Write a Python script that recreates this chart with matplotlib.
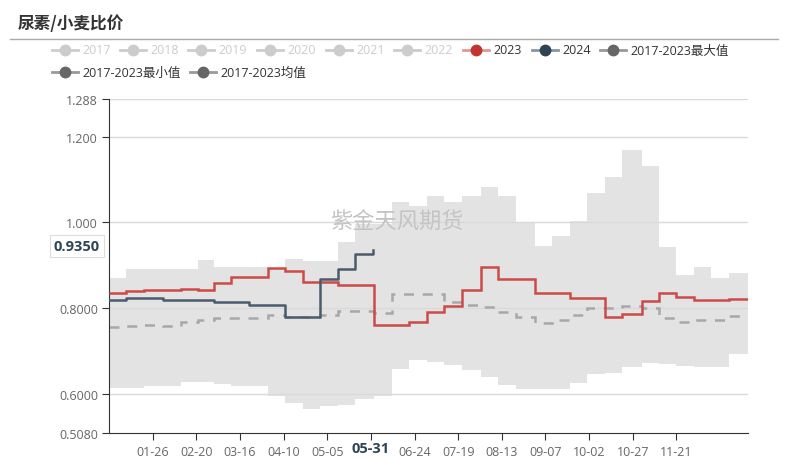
import matplotlib
matplotlib.use("Agg")
import matplotlib.pyplot as plt
import numpy as np
from matplotlib.lines import Line2D

plt.rcParams["font.family"] = ["Open Sans", "Noto Sans CJK SC", "DejaVu Sans"]

# dekad starts (1st, 11th, 21st of each month), leap-year calendar
dekad_dates = np.array(["2024-%02d-%02d" % (m, d) for m in range(1, 13) for d in (1, 11, 21)],
                       dtype="datetime64[D]")
year_start = np.datetime64("2024-01-01")
year_days = 366

upper = [0.869, 0.891, 0.891, 0.891, 0.891, 0.912, 0.895, 0.895, 0.895, 0.893, 0.914, 0.910,
         0.910, 0.953, 0.996, 0.996, 1.048, 1.037, 1.061, 1.048, 1.062, 1.082, 1.061, 1.000,
         0.945, 0.969, 1.002, 1.068, 1.106, 1.169, 1.132, 0.943, 0.877, 0.895, 0.870, 0.882]
lower = [0.613, 0.614, 0.617, 0.617, 0.626, 0.626, 0.622, 0.617, 0.617, 0.594, 0.578, 0.565,
         0.572, 0.573, 0.587, 0.595, 0.657, 0.679, 0.674, 0.667, 0.656, 0.639, 0.619, 0.610,
         0.610, 0.610, 0.624, 0.646, 0.649, 0.661, 0.671, 0.669, 0.665, 0.663, 0.661, 0.692]
mean = [0.756, 0.757, 0.760, 0.759, 0.768, 0.771, 0.776, 0.776, 0.776, 0.783, 0.779, 0.779,
        0.783, 0.793, 0.793, 0.788, 0.832, 0.832, 0.832, 0.813, 0.808, 0.802, 0.790, 0.780,
        0.765, 0.771, 0.783, 0.799, 0.799, 0.805, 0.799, 0.776, 0.768, 0.771, 0.771, 0.782]
y2023 = [0.835, 0.839, 0.841, 0.841, 0.844, 0.842, 0.858, 0.872, 0.872, 0.893, 0.886, 0.860,
         0.861, 0.854, 0.854, 0.761, 0.761, 0.768, 0.791, 0.805, 0.842, 0.896, 0.868, 0.868,
         0.836, 0.836, 0.823, 0.823, 0.780, 0.787, 0.817, 0.836, 0.826, 0.818, 0.818, 0.820]
y2024 = [0.819, 0.823, 0.823, 0.819, 0.819, 0.819, 0.815, 0.815, 0.808, 0.808, 0.780, 0.780,
         0.868, 0.890, 0.926]
last_date = "2024-05-31"
last_value = 0.935

y_ticks = [0.508, 0.6, 0.8, 1.0, 1.2, 1.288]
y_ticklabels = ["0.5080", "0.6000", "0.8000", "1.000", "1.200", "1.288"]

W, H = 789, 460


def fx(px):
    return px / W


def fy(py):
    return 1 - py / H


days = (dekad_dates - year_start).astype(int)
edges = np.append(days, year_days)
last_day = int((np.datetime64(last_date) - year_start).astype(int))

fig = plt.figure(figsize=(W / 100, H / 100), dpi=100)
ax = fig.add_axes([fx(109), fy(434), (748 - 109) / W, (434 - 100) / H])

ax.stairs(upper, edges, baseline=lower, fill=True, color="#e3e3e3", lw=0, zorder=1)
for v in y_ticks[1:]:
    ax.axhline(v, color="#d9d9d9", lw=1, zorder=1.5)

ax.stairs(mean, edges, baseline=None, color="#a8a8a8", lw=1.8, linestyle=(0, (4, 3.5)), zorder=2)
ax.stairs(y2023, edges, baseline=None, color="#cc4a47", lw=1.8, zorder=3)
x24 = np.append(days[:len(y2024)], last_day)
ax.plot(x24, y2024 + [last_value], drawstyle="steps-post", color="#4a5b6c", lw=1.8, zorder=4)

ax.set_xlim(0, year_days)
ax.set_ylim(0.508, 1.288)
ax.set_yticks(y_ticks)
ax.set_yticklabels(y_ticklabels)

# tick every 25 days; the one under the pointer label is left blank
tick_days = np.arange(25, 330, 25)
tick_labels = [str(year_start + int(d))[5:] for d in tick_days]
tick_labels = ["" if abs(d - last_day) < 3 else t for d, t in zip(tick_days, tick_labels)]
ax.set_xticks(tick_days)
ax.set_xticklabels(tick_labels)

for s in ["top", "right"]:
    ax.spines[s].set_visible(False)
for s in ["left", "bottom"]:
    ax.spines[s].set_color("#333333")
ax.tick_params(axis="y", length=5, color="#333333", labelcolor="#666666", labelsize=9, pad=3)
ax.tick_params(axis="x", length=5, color="#333333", labelcolor="#666666", labelsize=9, pad=4)

# axis pointer labels
fig.text(fx(371), fy(449), last_date[5:], fontsize=10.5, fontweight="bold", color="#2f4554",
         ha="center", va="center")
fig.text(fx(77), fy(247), "%.4f" % last_value, fontsize=10.5, fontweight="bold", color="#2f4554",
         ha="center", va="center",
         bbox=dict(boxstyle="square,pad=0.25", fc="white", ec="#dddddd", lw=0.8))

# watermark
ax.text(0.45, 0.635, "紫金天风期货", transform=ax.transAxes, fontsize=16, color="#c4c4c4",
        family="Noto Sans CJK SC", ha="center", va="center", zorder=5)

# title
fig.text(fx(18), fy(24), "尿素/小麦比价", fontsize=12, fontweight="bold", color="#333333",
         family="Noto Sans CJK SC", va="center")
fig.add_artist(Line2D([fx(10), fx(778)], [fy(40), fy(40)], color="#aaaaaa", lw=1,
                      transform=fig.transFigure))

# legend
legend_items = [
    (52, 51, "2017", "#cccccc", "#cccccc", "#cccccc"),
    (120, 51, "2018", "#cccccc", "#cccccc", "#cccccc"),
    (188, 51, "2019", "#cccccc", "#cccccc", "#cccccc"),
    (257, 51, "2020", "#cccccc", "#cccccc", "#cccccc"),
    (326, 51, "2021", "#cccccc", "#cccccc", "#cccccc"),
    (394, 51, "2022", "#cccccc", "#cccccc", "#cccccc"),
    (463, 51, "2023", "#e39794", "#c23531", "#333333"),
    (532, 51, "2024", "#8796a3", "#2f4554", "#333333"),
    (600, 51, "2017-2023最大值", "#999999", "#666666", "#333333"),
    (52, 73, "2017-2023最小值", "#999999", "#666666", "#333333"),
    (190, 73, "2017-2023均值", "#999999", "#666666", "#333333"),
]
for x, y, label, line_c, dot_c, text_c in legend_items:
    fig.add_artist(Line2D([fx(x), fx(x + 26)], [fy(y), fy(y)], color=line_c, lw=2,
                          transform=fig.transFigure))
    fig.add_artist(Line2D([fx(x + 13)], [fy(y)], marker="o", ms=7.5, color=dot_c, lw=0,
                          transform=fig.transFigure))
    fig.text(fx(x + 30), fy(y), label, fontsize=9, color=text_c, va="center")

plt.savefig("out.png", dpi=100)
